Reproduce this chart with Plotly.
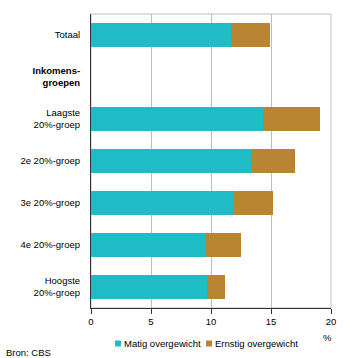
import plotly.graph_objects as go

categories = ["Totaal", "<b>Inkomens-</b><br><b>groepen</b>", "Laagste<br>20%-groep", "2e 20%-groep",
              "3e 20%-groep", "4e 20%-groep", "Hoogste<br>20%-groep"]
matig = [11.7, None, 14.3, 13.3, 11.9, 9.6, 9.7]
ernstig = [3.2, None, 4.8, 3.7, 3.3, 2.9, 1.5]
xticks = [0, 5, 10, 15, 20]
series_names = ["Matig overgewicht", "Ernstig overgewicht"]
series_colors = ["#1FBCC7", "#B98533"]

FONT = "Liberation Sans, Arial, sans-serif"
FS = 9.5

fig = go.Figure()
for vals, name, color in zip([matig, ernstig], series_names, series_colors):
    fig.add_trace(go.Bar(y=categories, x=vals, orientation="h", name=name,
                         marker=dict(color=color, line=dict(width=0)), width=0.56))

# plot area in pixels
L, R, T, B = 91, 331, 14, 308
PW, PH = R - L, B - T

def px(x):
    return (x - L) / PW

def py(y):
    return (B - y) / PH

# manual legend (square + label), matching the reference layout
legend_x = [115, 206]
legend_y = 343.5
shapes = [dict(type="rect", xref="paper", yref="paper", x0=0, x1=1, y0=0, y1=1,
               line=dict(color="#BEBEBE", width=1), layer="below")]
annotations = []
for lx, name, color in zip(legend_x, series_names, series_colors):
    shapes.append(dict(type="rect", xref="paper", yref="paper",
                       x0=px(lx), x1=px(lx + 6), y0=py(legend_y + 3), y1=py(legend_y - 3),
                       fillcolor=color, line=dict(width=0)))
    annotations.append(dict(text=name, xref="paper", yref="paper", x=px(lx + 7), y=py(legend_y),
                            xanchor="left", yanchor="middle", showarrow=False,
                            font=dict(size=FS)))

annotations += [
    dict(text="%", xref="paper", yref="paper", x=px(327), y=py(337),
         xanchor="center", yanchor="middle", showarrow=False, font=dict(size=FS)),
    dict(text="Bron: CBS", xref="paper", yref="paper", x=px(4), y=py(352),
         xanchor="left", yanchor="middle", showarrow=False, font=dict(size=FS)),
]

fig.update_layout(
    width=350, height=358,
    margin=dict(l=L, r=350 - R, t=T, b=358 - B, autoexpand=False),
    barmode="stack",
    plot_bgcolor="white", paper_bgcolor="white",
    font=dict(family=FONT, size=FS, color="#000000"),
    showlegend=False,
    xaxis=dict(range=[0, 20], tickvals=xticks, ticks="outside", ticklen=5, tickcolor="#333333",
               showgrid=True, gridcolor="#BEBEBE", gridwidth=1, zeroline=False,
               showline=True, linecolor="#333333", linewidth=1, fixedrange=True,
               tickfont=dict(size=FS)),
    yaxis=dict(categoryorder="array", categoryarray=categories, autorange="reversed",
               showgrid=False, zeroline=False, showline=True, linecolor="#333333", linewidth=1,
               ticks="", ticklabelstandoff=8, fixedrange=True, tickfont=dict(size=FS)),
    shapes=shapes,
    annotations=annotations,
)

fig.write_html("out.html")
